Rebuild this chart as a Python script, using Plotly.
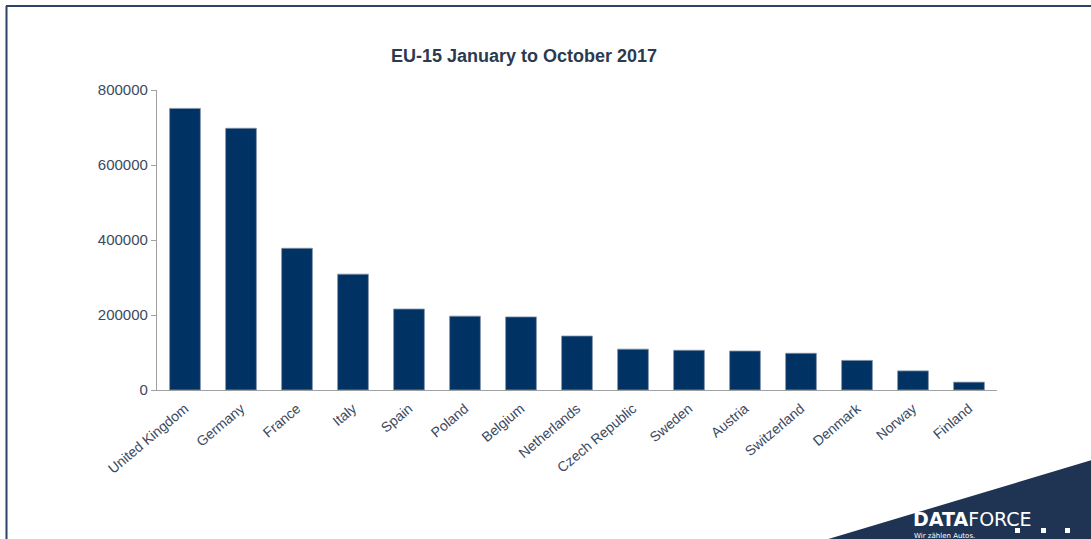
import plotly.graph_objects as go

countries = ["United Kingdom", "Germany", "France", "Italy", "Spain", "Poland",
             "Belgium", "Netherlands", "Czech Republic", "Sweden", "Austria",
             "Switzerland", "Denmark", "Norway", "Finland"]
registrations = [751000, 698000, 378000, 309000, 216000, 197000, 195000,
                 144000, 109000, 106000, 104000, 98000, 79000, 51000, 21000]
y_ticks = [0, 200000, 400000, 600000, 800000]
title_text = "EU-15 January to October 2017"

W, H = 1091, 539
L, R, T, B = 157, 997, 90, 390


def px(x):
    return (x - L) / (R - L)


def py(y):
    return (B - y) / (B - T)


fig = go.Figure(go.Bar(
    x=countries, y=registrations,
    marker=dict(color="#003263", line=dict(color="#8796ab", width=0.8)),
    width=0.55,
))

text_col = "#3b4a5f"
navy = "#1f3452"

fig.update_layout(
    width=W, height=H,
    margin=dict(l=L, r=W - R, t=T, b=H - B, autoexpand=False),
    paper_bgcolor="white", plot_bgcolor="white",
    showlegend=False,
    font=dict(family="Liberation Sans, Arial, sans-serif", color=text_col, size=14),
    xaxis=dict(showline=True, linecolor="#a0a0a0", linewidth=1.2, ticks="",
               tickangle=-40, tickfont=dict(size=14, color=text_col),
               showgrid=False, ticklabelstandoff=4),
    yaxis=dict(range=[0, 800000], tickvals=y_ticks,
               ticktext=[str(v) for v in y_ticks],
               showline=True, linecolor="#a0a0a0", linewidth=1.2,
               ticks="outside", ticklen=5, tickcolor="#a0a0a0",
               showgrid=False, zeroline=False,
               tickfont=dict(size=15, color=text_col)),
    annotations=[
        dict(text="<b>" + title_text + "</b>", x=px(524), y=py(56),
             xref="paper", yref="paper", showarrow=False, yanchor="middle",
             font=dict(size=18, color="#2b3a4f")),
        dict(text="<b>DATA</b>FORCE", x=px(912), y=py(531), xanchor="left",
             yanchor="bottom", borderpad=0,
             xref="paper", yref="paper", showarrow=False,
             font=dict(family="DejaVu Sans", size=19, color="white")),
        dict(text="Wir zählen Autos.", x=px(913), y=py(531), xanchor="left",
             yanchor="top", borderpad=0,
             xref="paper", yref="paper", showarrow=False,
             font=dict(family="DejaVu Sans", size=7, color="white")),
    ],
    shapes=[
        dict(type="path", xref="paper", yref="paper",
             path=f"M {px(825)} {py(540)} L {px(1092)} {py(540)} L {px(1092)} {py(460)} Z",
             fillcolor=navy, line=dict(width=0), layer="below"),
        dict(type="line", xref="paper", yref="paper",
             x0=px(6), x1=px(1092), y0=py(6), y1=py(6),
             line=dict(color="#2c4266", width=2)),
        dict(type="line", xref="paper", yref="paper",
             x0=px(6.5), x1=px(6.5), y0=py(6), y1=py(540),
             line=dict(color="#2c4266", width=2)),
    ] + [
        dict(type="rect", xref="paper", yref="paper",
             x0=px(sx), x1=px(sx + 5), y0=py(528), y1=py(533),
             fillcolor="white", line=dict(width=0))
        for sx in (1015, 1041, 1065)
    ],
)

fig.write_html(
    "out.html",
    config={"displayModeBar": False},
    post_script="document.body.style.margin='0';document.body.style.overflow='hidden';",
)
